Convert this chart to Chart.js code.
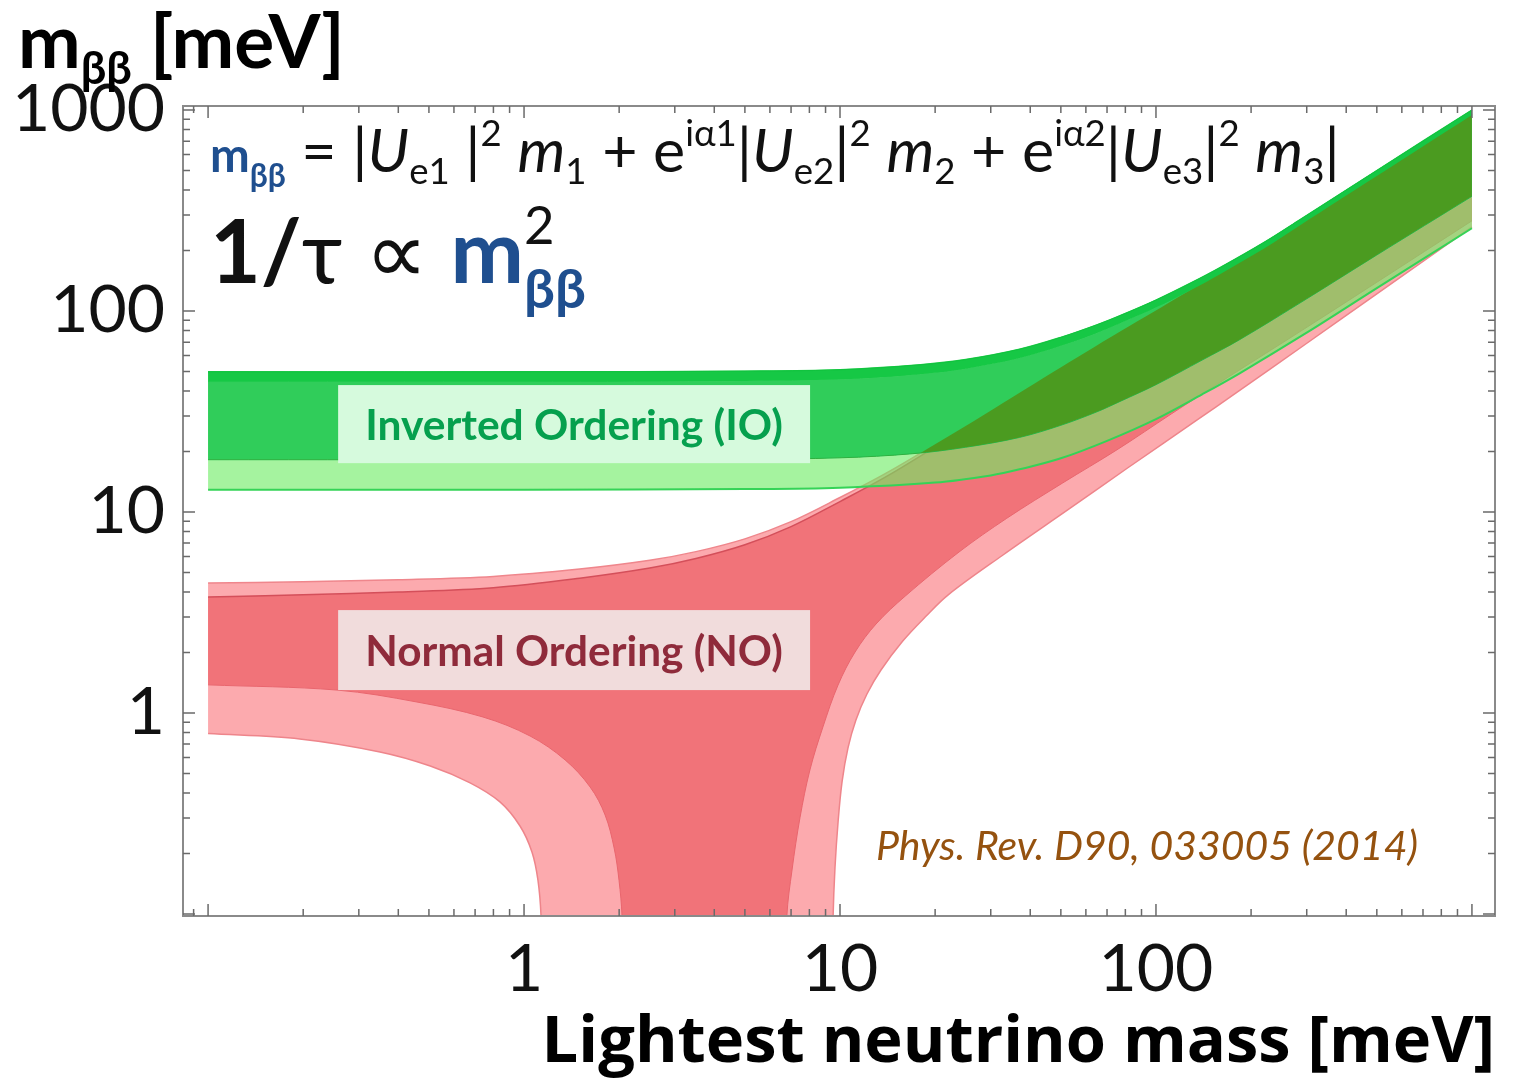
<!DOCTYPE html>
<html>
<head>
<meta charset="utf-8">
<title>m_bb vs lightest neutrino mass</title>
<script src="https://cdn.jsdelivr.net/npm/chart.js@4/dist/chart.umd.min.js"></script>
<style>
  html, body { margin: 0; padding: 0; background: #ffffff; }
  canvas { display: block; }
</style>
</head>
<body>
<canvas id="mbbChart" width="1514" height="1082"></canvas>
<script>
// values, everything in meV
// tiny values (0.001) stand for "mbb goes to zero" inside the NO funnel, they fall below the axis

// Normal ordering, outer (light) band
var xNoUp3 = [0.1, 0.2, 0.4, 0.8, 1.5, 2.5, 3.5, 5, 7, 10, 14, 20, 29, 47, 77, 125, 184, 300, 500, 1000];
var yNoUp3 = [4.43, 4.5, 4.6, 4.78, 5.2, 5.75, 6.35, 7.35, 8.95, 11.8, 15.6, 21.7, 30.9, 49.4, 79, 124, 180, 292, 485, 960];
var xNoLo3 = [0.1, 0.195, 0.35, 0.505, 0.675, 0.839, 0.971, 1.06, 1.107, 1.132, 1.16, 1.19,
              9.2, 9.4, 9.51, 9.64, 9.86, 10.15, 10.6, 11.23, 12.17, 13.48, 15.8, 18.6, 22.0,
              32.8, 53.1, 81.5, 135, 177, 301, 500, 1000];
var yNoLo3 = [0.79, 0.743, 0.64, 0.545, 0.449, 0.361, 0.274, 0.203, 0.147, 0.0977, 0.03, 0.001,
              0.001, 0.03, 0.0977, 0.1694, 0.287, 0.454, 0.670, 0.923, 1.243, 1.636, 2.28, 3.0, 3.87,
              6.11, 10.35, 16.6, 28.7, 38.6, 69.3, 121.6, 262];

// Normal ordering, inner (dark) band
var xNoUp1 = [0.1, 0.2, 0.4, 0.8, 1.5, 2.5, 3.5, 5, 7, 10, 14, 20, 29, 47, 77, 125, 184, 300, 500, 1000];
var yNoUp1 = [3.78, 3.87, 4.0, 4.2, 4.68, 5.26, 5.87, 6.87, 8.46, 11.27, 14.98, 21.05, 30.3, 48.5, 78, 122, 177, 288, 480, 950];
var xNoLo1 = [0.1, 0.256, 0.458, 0.741, 1.045, 1.349, 1.619, 1.805, 1.928, 1.998, 2.042, 2.08, 2.12,
              6.6, 6.7, 6.79, 7.05, 7.47, 8.03, 8.83, 9.86, 11.16, 13.0, 16.1,
              23.8, 33.7, 50.5, 75.3, 112, 164, 301, 500, 1000];
var yNoLo1 = [1.38, 1.30, 1.134, 0.955, 0.768, 0.584, 0.428, 0.311, 0.213, 0.147, 0.0977, 0.03, 0.001,
              0.001, 0.03, 0.0977, 0.1655, 0.301, 0.52, 0.852, 1.378, 2.01, 2.77, 3.82,
              6.32, 9.3, 13.9, 20.4, 30.8, 45.4, 83.2, 139, 281];

// Inverted ordering, outer (light) band
var xIoUp3 = [0.1, 1, 5, 10, 18, 25, 37, 50, 65, 77, 100, 130, 160, 220, 286, 500, 1000];
var yIoUp3 = [49.8, 49.8, 50.2, 51, 54, 57.3, 64.5, 73.9, 85.3, 94.8, 113.3, 138.7, 164.8, 219.5, 285, 500, 1000];
var xIoLo3 = [0.1, 1, 5, 10, 20, 30, 37, 50, 70, 100, 140, 184, 300, 500, 1000];
var yIoLo3 = [12.9, 12.9, 13.0, 13.2, 14.0, 15.2, 16.3, 18.5, 22.6, 29, 38.5, 49, 78, 130, 258];

// Inverted ordering, inner (dark) band
var xIoUp1 = [0.1, 1, 5, 10, 18, 25, 37, 50, 65, 77, 100, 130, 160, 220, 286, 500, 1000];
var yIoUp1 = [44.5, 44.5, 44.9, 45.7, 48.5, 51.6, 58.3, 67.1, 77.8, 86.8, 104, 128, 153, 204.6, 267, 469, 945];
var xIoLo1 = [0.1, 1, 5, 10, 17, 25, 37, 50, 65, 77, 100, 140, 184, 300, 500, 1000];
var yIoLo1 = [18.2, 18.2, 18.3, 18.6, 19.5, 21, 23.5, 27, 31.5, 35.5, 43, 57, 72, 115, 190, 372];

// axes
var xRange = [0.0833, 1183];
var yRange = [0.0977, 1047];
var xTickLabels = [1, 10, 100];
var yTickLabels = [1, 10, 100, 1000];

var BLUE = '#1f4f8f';
var FONT = 'Lato, "Open Sans", sans-serif';
Chart.defaults.font.family = FONT;

function pts(xs, ys) {
  return xs.map(function (x, i) { return { x: x, y: ys[i] }; });
}

// 1..9 x 10^n inside the range, labels only on the listed ones
function logTicks(min, max) {
  var out = [];
  for (var e = Math.floor(Math.log10(min)); e <= Math.ceil(Math.log10(max)); e++) {
    for (var m = 1; m <= 9; m++) {
      var v = Number((m * Math.pow(10, e)).toPrecision(6));
      if (v >= min && v <= max) out.push({ value: v });
    }
  }
  return out;
}
function isDecade(v) {
  var l = Math.log10(v);
  return Math.abs(l - Math.round(l)) < 1e-9;
}

var datasets = [
  { label: 'NO outer', data: pts(xNoUp3, yNoUp3), fill: { target: 1 }, backgroundColor: '#fcaaae', borderColor: '#ef868c', borderWidth: 1.5 },
  { label: 'NO outer low', data: pts(xNoLo3, yNoLo3), fill: false, borderColor: '#ee858b', borderWidth: 1.5 },
  { label: 'NO inner', data: pts(xNoUp1, yNoUp1), fill: { target: 3 }, backgroundColor: '#f17379', borderColor: '#d44f5a', borderWidth: 1.5 },
  { label: 'NO inner low', data: pts(xNoLo1, yNoLo1), fill: false, borderColor: '#e9666e', borderWidth: 1 },
  { label: 'IO outer', data: pts(xIoUp3, yIoUp3), fill: { target: 5 }, backgroundColor: 'rgba(110,235,100,0.62)', borderColor: '#22cf4a', borderWidth: 1.5 },
  { label: 'IO outer low', data: pts(xIoLo3, yIoLo3), fill: false, borderColor: '#35d357', borderWidth: 2 },
  { label: 'IO inner', data: pts(xIoUp1, yIoUp1), fill: { target: 7 }, backgroundColor: '#30cd5a', borderColor: '#30cd5a', borderWidth: 1 },
  { label: 'IO inner low', data: pts(xIoLo1, yIoLo1), fill: false, borderColor: '#25b84b', borderWidth: 1 },
  // where the IO inner band lies on top of the NO region it turns olive
  { label: 'IO over NO', data: pts(xNoUp3, yNoUp3), fill: { target: 7, above: '#4b9b20', below: 'rgba(0,0,0,0)' }, borderColor: 'rgba(0,0,0,0)', borderWidth: 0 },
  { label: 'IO top strip', data: pts(xIoUp3, yIoUp3), fill: { target: 6 }, backgroundColor: '#16c845', borderColor: '#10c23e', borderWidth: 1 }
];
datasets.forEach(function (d, i) {
  d.order = datasets.length - i;   // first in list is painted first
  d.pointRadius = 0;
  d.tension = 0.35;
});

// --- little rich-text helper for sub/superscripts ---
function runFont(r, size) {
  return (r.i ? 'italic ' : '') + (r.b ? 'bold ' : '') + (size * (r.s || 1)).toFixed(1) + 'px ' + FONT;
}
function runW(ctx, r, size) {
  ctx.font = runFont(r, size);
  var w = ctx.measureText(r.t).width;
  if (r.sup) { ctx.font = runFont(r.sup, size); w = Math.max(w, ctx.measureText(r.sup.t).width); }
  return w;
}
function drawRuns(ctx, runs, x, y, width, color) {
  var total = 0;
  runs.forEach(function (r) { total += runW(ctx, r, 100); });
  var size = 100 * width / total;
  ctx.textAlign = 'left';
  ctx.textBaseline = 'alphabetic';
  runs.forEach(function (r) {
    var w = runW(ctx, r, size);
    ctx.font = runFont(r, size);
    ctx.fillStyle = r.c || color;
    ctx.fillText(r.t, x, y + (r.dy || 0) * size);
    if (r.sup) {
      ctx.font = runFont(r.sup, size);
      ctx.fillStyle = r.sup.c || color;
      ctx.fillText(r.sup.t, x, y + r.sup.dy * size);
    }
    x += w;
  });
}

var SUB = 0.2, SUP = -0.42;
var formulaRuns = [
  { t: 'm', b: 1, c: BLUE, s: 0.78 }, { t: 'ββ', b: 1, c: BLUE, s: 0.52, dy: 0.24 },
  { t: ' = |' }, { t: 'U', i: 1 }, { t: 'e1', s: 0.6, dy: SUB }, { t: ' |' }, { t: '2', s: 0.6, dy: SUP },
  { t: ' ' }, { t: 'm', i: 1 }, { t: '1', s: 0.6, dy: SUB },
  { t: ' + e' }, { t: 'iα1', s: 0.6, dy: SUP }, { t: '|' }, { t: 'U', i: 1 }, { t: 'e2', s: 0.6, dy: SUB }, { t: '|' }, { t: '2', s: 0.6, dy: SUP },
  { t: ' ' }, { t: 'm', i: 1 }, { t: '2', s: 0.6, dy: SUB },
  { t: ' + e' }, { t: 'iα2', s: 0.6, dy: SUP }, { t: '|' }, { t: 'U', i: 1 }, { t: 'e3', s: 0.6, dy: SUB }, { t: '|' }, { t: '2', s: 0.6, dy: SUP },
  { t: ' ' }, { t: 'm', i: 1 }, { t: '3', s: 0.6, dy: SUB }, { t: '|' }
];
var rateRuns = [
  { t: '1/', b: 1 }, { t: 'τ ∝ ' }, { t: 'm', b: 1, c: BLUE },
  { t: 'ββ', b: 1, c: BLUE, s: 0.62, dy: 0.28, sup: { t: '2', s: 0.6, dy: -0.45 } }
];
var yTitleRuns = [
  { t: 'm', b: 1 }, { t: 'ββ', b: 1, s: 0.6, dy: 0.22 }, { t: ' [meV]', b: 1 }
];

function labelBox(ctx, xs, ys, b, text, bg, fg) {
  var l = xs.getPixelForValue(b.x0), r = xs.getPixelForValue(b.x1);
  var t = ys.getPixelForValue(b.y1), btm = ys.getPixelForValue(b.y0);
  ctx.fillStyle = bg;
  ctx.fillRect(l, t, r - l, btm - t);
  ctx.font = 'bold 100px ' + FONT;
  var size = 100 * (r - l) * 0.885 / ctx.measureText(text).width;
  ctx.font = 'bold ' + size.toFixed(1) + 'px ' + FONT;
  ctx.fillStyle = fg;
  ctx.textAlign = 'center';
  ctx.textBaseline = 'middle';
  ctx.fillText(text, (l + r) / 2, (t + btm) / 2 + 2);
}

var annotations = {
  id: 'annotations',
  afterDatasetsDraw: function (chart) {
    var ctx = chart.ctx, xs = chart.scales.x, ys = chart.scales.y;
    ctx.save();
    labelBox(ctx, xs, ys, { x0: 0.258, x1: 8.04, y0: 17.5, y1: 42.8 }, 'Inverted Ordering (IO)', '#d6fadd', '#06a04e');
    labelBox(ctx, xs, ys, { x0: 0.258, x1: 8.04, y0: 1.30, y1: 3.25 }, 'Normal Ordering (NO)', '#f1dcdc', '#8f2b3b');

    ctx.font = 'italic 41px ' + FONT;
    ctx.fillStyle = '#95520f';
    ctx.textAlign = 'left';
    ctx.textBaseline = 'alphabetic';
    ctx.fillText('Phys. Rev. D90, 033005 (2014)', xs.getPixelForValue(13), ys.getPixelForValue(0.186));
    ctx.restore();
  },
  afterDraw: function (chart) {
    var ctx = chart.ctx, a = chart.chartArea, xs = chart.scales.x, ys = chart.scales.y;
    ctx.save();
    // frame
    ctx.strokeStyle = '#8a8a8a';
    ctx.lineWidth = 2;
    ctx.strokeRect(a.left, a.top, a.right - a.left, a.bottom - a.top);
    // inward tick marks on all four sides
    ctx.strokeStyle = '#6a6a6a';
    ctx.lineWidth = 1.5;
    ctx.beginPath();
    xs.ticks.forEach(function (t) {
      var p = xs.getPixelForValue(t.value), len = isDecade(t.value) ? 12 : 7;
      ctx.moveTo(p, a.bottom); ctx.lineTo(p, a.bottom - len);
      ctx.moveTo(p, a.top); ctx.lineTo(p, a.top + len);
    });
    ys.ticks.forEach(function (t) {
      var p = ys.getPixelForValue(t.value), len = isDecade(t.value) ? 12 : 7;
      ctx.moveTo(a.left, p); ctx.lineTo(a.left + len, p);
      ctx.moveTo(a.right, p); ctx.lineTo(a.right - len, p);
    });
    ctx.stroke();

    drawRuns(ctx, formulaRuns, a.left + 27, a.top + 66, 1130, '#111111');
    drawRuns(ctx, rateRuns, a.left + 27, a.top + 177, 375, '#111111');
    drawRuns(ctx, yTitleRuns, 18, 68, 327, '#000000');
    ctx.restore();
  }
};

new Chart(document.getElementById('mbbChart').getContext('2d'), {
  type: 'line',
  data: { datasets: datasets },
  options: {
    responsive: false,
    animation: false,
    events: [],
    layout: { padding: { top: 106, right: 19, left: 0, bottom: 0 } },
    elements: { line: { capBezierPoints: false } },
    plugins: { legend: { display: false }, tooltip: { enabled: false } },
    scales: {
      x: {
        type: 'logarithmic',
        min: xRange[0],
        max: xRange[1],
        grid: { display: false },
        border: { display: false },
        afterBuildTicks: function (scale) { scale.ticks = logTicks(xRange[0], xRange[1]); },
        afterFit: function (scale) { scale.height = 166; },
        ticks: {
          autoSkip: false, maxRotation: 0, minRotation: 0, padding: 6,
          color: '#111111', font: { size: 66 },
          callback: function (v) { return xTickLabels.indexOf(v) >= 0 ? String(v) : ''; }
        },
        title: {
          display: true, text: 'Lightest neutrino mass [meV]', align: 'end',
          color: '#000000', font: { size: 65, weight: 'bold', family: '"Open Sans", Lato, sans-serif' },
          padding: { top: 0, bottom: 0 }
        }
      },
      y: {
        type: 'logarithmic',
        min: yRange[0],
        max: yRange[1],
        grid: { display: false },
        border: { display: false },
        afterBuildTicks: function (scale) { scale.ticks = logTicks(yRange[0], yRange[1]); },
        afterFit: function (scale) { scale.width = 183; },
        ticks: {
          autoSkip: false, padding: 10,
          color: '#111111', font: { size: 66 },
          callback: function (v) { return yTickLabels.indexOf(v) >= 0 ? String(v) : ''; }
        }
      }
    }
  },
  plugins: [annotations]
});
</script>
</body>
</html>
